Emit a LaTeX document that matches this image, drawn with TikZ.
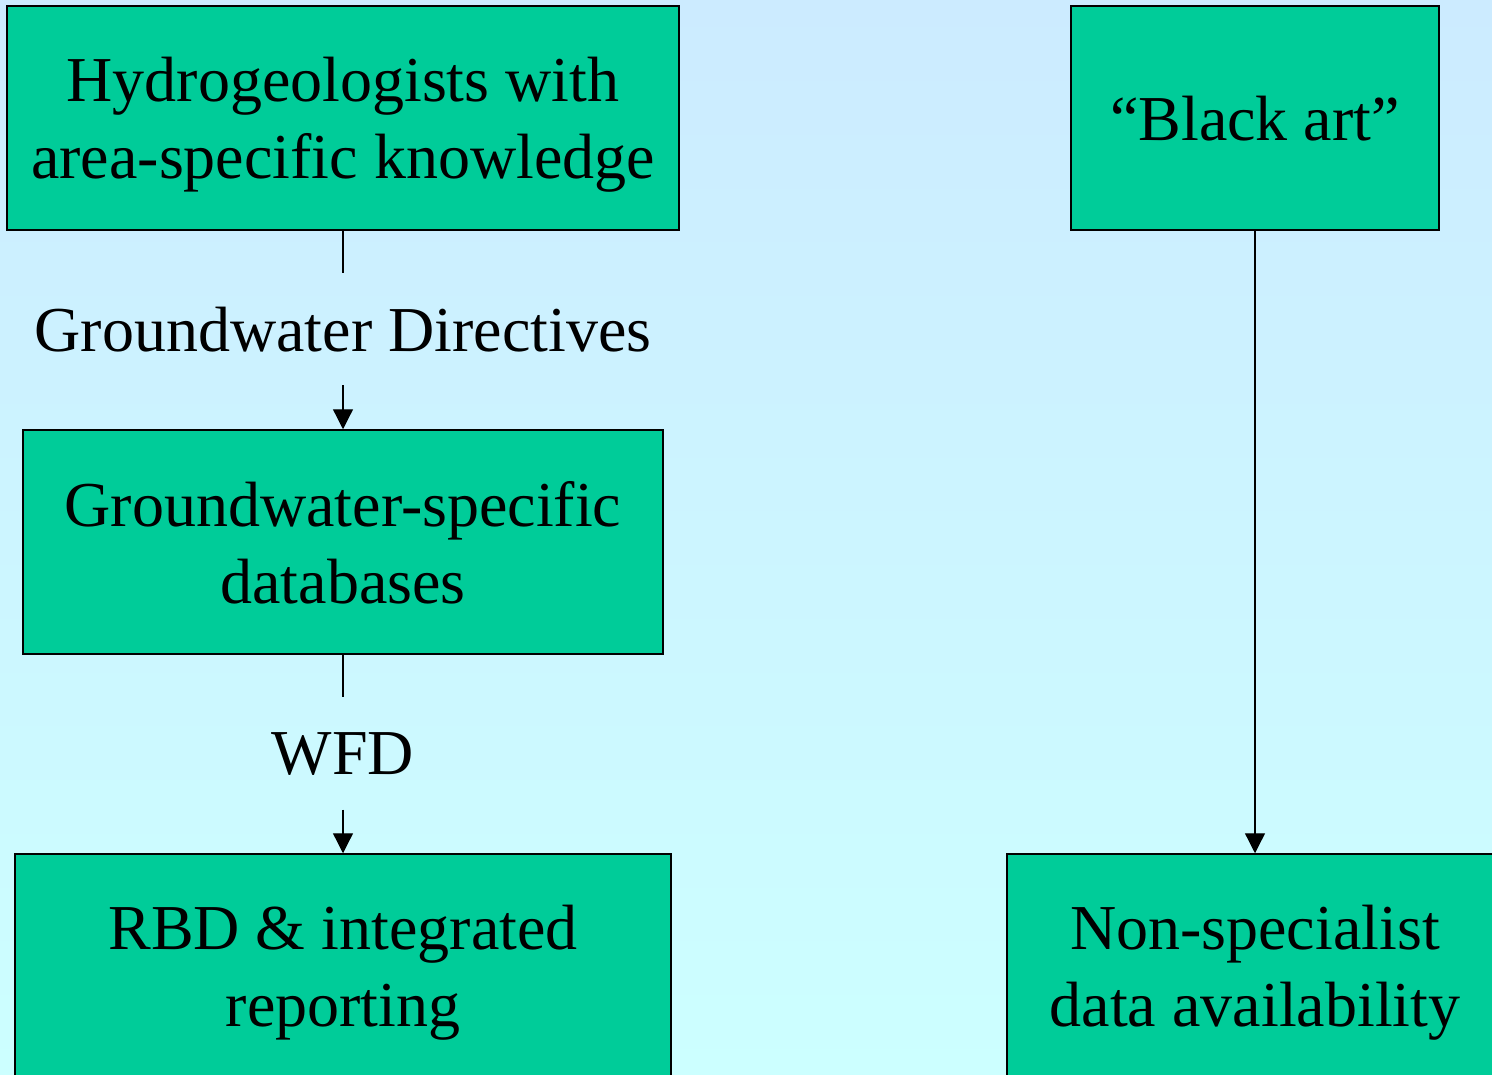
\documentclass[tikz,border=0pt]{standalone}
\usepackage{fontspec}
\setmainfont{Liberation Serif}
\usetikzlibrary{arrows.meta}
\definecolor{boxgreen}{RGB}{0,204,153}
\definecolor{bgtop}{RGB}{204,235,255}
\definecolor{bgbot}{RGB}{204,255,255}
\begin{document}
\begin{tikzpicture}[x=1pt,y=1pt,
  box/.style={draw=black, line width=1.5pt, fill=boxgreen, inner sep=0pt,
    minimum height=224pt, align=center, text depth=-4pt,
    font=\fontsize{64pt}{77pt}\selectfont},
  lbl/.style={inner sep=0pt, minimum height=112pt, align=center, text depth=-4pt,
    font=\fontsize{64pt}{77pt}\selectfont},
  conn/.style={line width=1.3pt, draw=black},
  arr/.style={conn, -{Triangle[width=20pt,length=20pt]}}]
\useasboundingbox (0,0) rectangle (1492,-1075);
\clip (0,0) rectangle (1492,-1075);
\shade[top color=bgtop, bottom color=bgbot] (0,0) rectangle (1492,-1075);

\node[box, minimum width=672pt] (b1) at (343,-118) {Hydrogeologists with\\area-specific knowledge};
\node[lbl] (l1) at (343,-329) {Groundwater Directives};
\node[box, minimum width=640pt] (b2) at (343,-542) {Groundwater-specific\\databases};
\node[lbl] (l2) at (343,-753.5) {WFD};
\node[box, minimum width=656pt] (b3) at (343,-966) {RBD \& integrated\\reporting};

\node[box, minimum width=368pt] (b4) at (1255,-118) {“Black art”};
\node[box, minimum width=496pt] (b5) at (1255,-966) {Non-specialist\\data availability};

\draw[conn] (b1) -- (l1);
\draw[arr] (l1) -- (b2);
\draw[conn] (b2) -- (l2);
\draw[arr] (l2) -- (b3);
\draw[arr] (b4) -- (b5);
\end{tikzpicture}
\end{document}
